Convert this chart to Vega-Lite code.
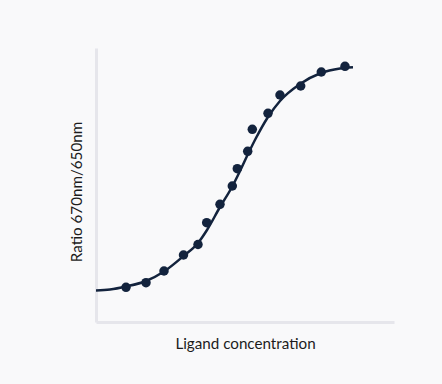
{
  "$schema": "https://vega.github.io/schema/vega-lite/v6.json",
  "width": 298,
  "height": 274,
  "autosize": {"type": "none"},
  "padding": {"left": 96, "top": 48, "right": 48, "bottom": 62},
  "background": "#f9f9fa",
  "config": {
    "view": {"stroke": null},
    "font": "Lato",
    "axis": {
      "domainColor": "#e6e6eb",
      "domainWidth": 3,
      "ticks": false,
      "labels": false,
      "grid": false,
      "titleFontSize": 15.2,
      "titleFontWeight": "normal",
      "titleColor": "#1c1c1c"
    }
  },
  "datasets": {
    "curve": [
      {"x": 0, "y": 11.5},
      {"x": 4.7, "y": 11.86},
      {"x": 10.07, "y": 12.96},
      {"x": 16.78, "y": 14.96},
      {"x": 22.82, "y": 18.43},
      {"x": 29.19, "y": 23.91},
      {"x": 34.23, "y": 28.83},
      {"x": 37.25, "y": 33.58},
      {"x": 41.61, "y": 41.97},
      {"x": 45.64, "y": 49.27},
      {"x": 48.32, "y": 55.11},
      {"x": 51.01, "y": 61.31},
      {"x": 53.69, "y": 67.15},
      {"x": 57.72, "y": 74.82},
      {"x": 61.74, "y": 80.66},
      {"x": 68.46, "y": 86.86},
      {"x": 75.5, "y": 90.88},
      {"x": 81.88, "y": 92.52},
      {"x": 86.24, "y": 92.96}
    ],
    "points": [
      {"x": 10.07, "y": 12.66},
      {"x": 16.78, "y": 14.34},
      {"x": 22.82, "y": 18.61},
      {"x": 29.36, "y": 24.45},
      {"x": 34.23, "y": 28.28},
      {"x": 37.15, "y": 36.24},
      {"x": 41.61, "y": 42.96},
      {"x": 45.74, "y": 49.64},
      {"x": 47.42, "y": 55.95},
      {"x": 50.91, "y": 62.3},
      {"x": 52.45, "y": 70.33},
      {"x": 57.72, "y": 76.17},
      {"x": 61.74, "y": 82.85},
      {"x": 68.69, "y": 86.13},
      {"x": 75.6, "y": 91.24},
      {"x": 83.56, "y": 93.32}
    ]
  },
  "layer": [
    {
      "data": {"name": "curve"},
      "mark": {"type": "line", "interpolate": "monotone", "color": "#13233d", "strokeWidth": 2.5},
      "encoding": {
        "x": {"field": "x", "type": "quantitative", "scale": {"domain": [0, 100]}, "axis": {"title": "Ligand concentration", "titlePadding": 14}},
        "y": {"field": "y", "type": "quantitative", "scale": {"domain": [0, 100]}, "axis": {"title": "Ratio 670nm/650nm", "titlePadding": 12, "titleY": 143.5}}
      }
    },
    {
      "data": {"name": "points"},
      "mark": {"type": "circle", "size": 90, "opacity": 1, "color": "#13233d"},
      "encoding": {
        "x": {"field": "x", "type": "quantitative"},
        "y": {"field": "y", "type": "quantitative"}
      }
    }
  ]
}
